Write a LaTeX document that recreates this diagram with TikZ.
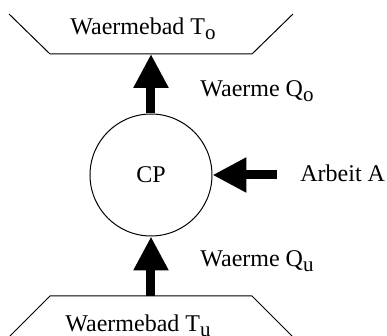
\documentclass[tikz,border=0pt]{standalone}
\usepackage{fontspec}
\setmainfont{Liberation Serif}
\usetikzlibrary{positioning, arrows.meta}

% lowered index letter as in the drawing
\newcommand{\idx}[1]{\raisebox{-2.3pt}{\fontsize{10.5}{12}\selectfont #1}}

\begin{document}
\begin{tikzpicture}[
    % one reference pixel = 0.5pt, y running down
    x=0.5pt, y=-0.5pt,
    font=\fontsize{12}{14}\selectfont,
    bath/.style={
        draw=black,
        line width=0.5pt
    },
    pump/.style={
        circle,
        draw=black,
        line width=0.5pt,
        minimum size=61pt,
        inner sep=0pt
    },
    tag/.style={
        anchor=base west,
        inner sep=0pt
    },
    flow/.style={
        -{Triangle[length=17pt, width=16.5pt]},
        line width=4.5pt,
        black
    }
]
\useasboundingbox (0,0) rectangle (387,336);

% ==============================
% Heat baths
% ==============================
\draw[bath] (9,14) -- (50,54) -- (252,54) -- (293,14);
\coordinate (tophot) at (151,54);
\node[tag] (hotname) at (70,35) {Waermebad T\idx{o}};

\draw[bath] (9,337) -- (50,296) -- (252,296) -- (293,337);
\coordinate (botcold) at (151,296);
\node[tag] (coldname) at (65,332) {Waermebad T\idx{u}};

% ==============================
% Heat pump
% ==============================
\node[pump] (cp) at (151,175) {CP};

\node[tag] (qhot) at (200,97) {Waerme Q\idx{o}};
\node[tag] (qcold) at (200,267) {Waerme Q\idx{u}};
\node[tag] (work) at (300,182) {Arbeit A};
\coordinate (workin) at (277,175);

% ==============================
% Arrows
% ==============================
\draw[flow] (cp.north) -- (tophot);
\draw[flow] (botcold) -- (cp.south);
\draw[flow] (workin) -- (cp.east);

\end{tikzpicture}
\end{document}
